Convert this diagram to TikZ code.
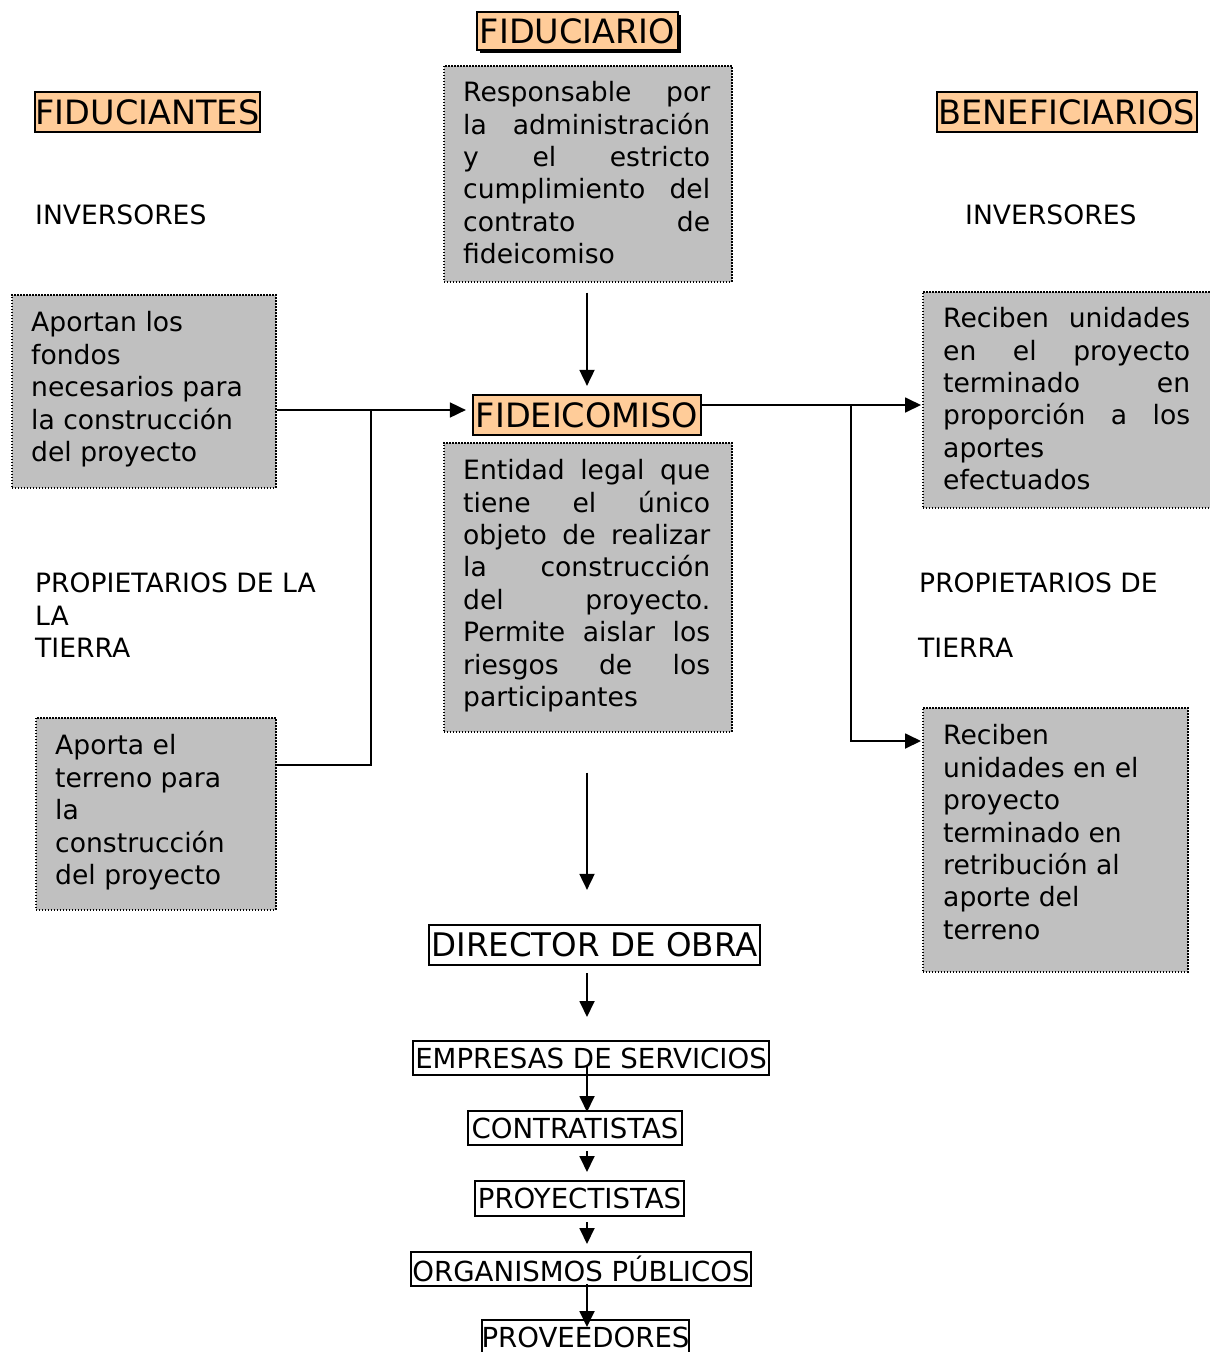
\documentclass[tikz,border=0pt]{standalone}
\usepackage{fontspec}
\setmainfont{DejaVu Sans}
\usetikzlibrary{arrows.meta,shadows,calc}
\definecolor{peach}{HTML}{FFCC99}
\definecolor{boxgray}{HTML}{C0C0C0}
\newcommand{\bodyfont}{\fontsize{26.6}{32.4}\selectfont\parindent=0pt}
\newcommand{\headfont}{\fontsize{33.5}{40}\selectfont}
\newcommand{\dirfont}{\fontsize{32.5}{39}\selectfont}
\newcommand{\listfont}{\fontsize{27.6}{33}\selectfont}
% one fully justified line: the interword spaces stretch to fill the column
\newcommand{\jl}[1]{\par\hbox to 247pt{\spaceskip=0.3em plus 1fil\xspaceskip=\spaceskip\strut #1}}
% closing line of a justified paragraph, left aligned
\newcommand{\lastline}[1]{\par\hbox{\strut #1}}
\tikzset{
  conn/.style={line width=1.8pt},
  arr/.style={conn,-{Triangle[length=16pt,width=15pt]}},
  headbox/.style={draw, line width=2.2pt, fill=peach, inner sep=0pt, font=\headfont},
  plainbox/.style={draw, line width=2pt, fill=white, inner sep=0pt},
  graybox/.style={draw, fill=boxgray, line width=1.5pt, dash pattern=on 1.5pt off 1.5pt, inner sep=0pt},
  bodytext/.style={anchor=north west, inner sep=0pt, font=\bodyfont},
  label/.style={anchor=north west, inner sep=0pt, font=\bodyfont, align=left},
}
\begin{document}
\begin{tikzpicture}[x=1pt,y=-1pt]
\clip (0,0) rectangle (1210,1352);
\fill[white] (0,0) rectangle (1210,1352);

% ---------- centre column ----------
\node[headbox, minimum width=201, minimum height=38,
      drop shadow={shadow xshift=3pt, shadow yshift=-3pt, fill=black, opacity=1}]
      (fiduciario) at (577.5,31) {FIDUCIARIO};

\node[graybox, minimum width=288, minimum height=216, anchor=north west] (resp) at (443,65) {};
\node[bodytext, text width=247] (resptxt) at (463,69) {%
  \jl{Responsable por}\jl{la administración}\jl{y el estricto}%
  \jl{cumplimiento del}\jl{contrato de}\lastline{fideicomiso}};

\node[headbox, minimum width=228, minimum height=40] (fidei) at (587,415) {FIDEICOMISO};

\node[graybox, minimum width=288, minimum height=289, anchor=north west] (entidad) at (443,442) {};
\node[bodytext, text width=247] (entidadtxt) at (463,447) {%
  \jl{Entidad legal que}\jl{tiene el único}\jl{objeto de realizar}%
  \jl{la construcción}\jl{del proyecto.}\jl{Permite aislar los}%
  \jl{riesgos de los}\lastline{participantes}};

\node[plainbox, line width=2.2pt, font=\dirfont, minimum width=331, minimum height=40] (director) at (594.5,945) {DIRECTOR DE OBRA};
\node[plainbox, font=\listfont, minimum width=356, minimum height=34] (empresas) at (591,1058) {EMPRESAS DE SERVICIOS};
\node[plainbox, font=\listfont, minimum width=214, minimum height=34] (contratistas) at (575,1128) {CONTRATISTAS};
\node[plainbox, font=\listfont, minimum width=209, minimum height=35] (proyectistas) at (579.5,1198.5) {PROYECTISTAS};
\node[plainbox, font=\listfont, minimum width=340, minimum height=34] (organismos) at (581,1269) {ORGANISMOS PÚBLICOS};
\node[plainbox, font=\listfont, minimum width=207, minimum height=34] (proveedores) at (585.5,1337) {PROVEEDORES};

% ---------- left column ----------
\node[headbox, minimum width=225, minimum height=40] (fiduciantes) at (147.5,112) {FIDUCIANTES};
\node[label] (invL) at (35,202) {\strut INVERSORES};
\node[graybox, minimum width=264, minimum height=193, anchor=north west] (aportan) at (11,294) {};
\node[label] (aportantxt) at (31,309) {\strut Aportan los\\fondos\\necesarios para\\la construcción\\del proyecto};
\node[label] (propL) at (35,570) {\strut PROPIETARIOS DE LA\\LA\\TIERRA};
\node[graybox, minimum width=240, minimum height=192, anchor=north west] (aporta) at (35,717) {};
\node[label] (aportatxt) at (55,732) {\strut Aporta el\\terreno para\\la\\construcción\\del proyecto};

% ---------- right column ----------
\node[headbox, minimum width=260, minimum height=40] (benef) at (1067,112) {BENEFICIARIOS};
\node[label] (invR) at (965,202) {\strut INVERSORES};
\node[graybox, minimum width=292, minimum height=216, anchor=north west] (reciben1) at (922,291) {};
\node[bodytext, text width=247] (reciben1txt) at (943,295) {%
  \jl{Reciben unidades}\jl{en el proyecto}\jl{terminado en}%
  \jl{proporción a los}\lastline{aportes}\lastline{efectuados}};
\node[label] (propR) at (919,570) {\strut PROPIETARIOS DE};
\node[label] (tierraR) at (918,635) {\strut TIERRA};
\node[graybox, minimum width=265, minimum height=264, anchor=north west] (reciben2) at (922,707) {};
\node[label] (reciben2txt) at (943,722) {\strut Reciben\\unidades en el\\proyecto\\terminado en\\retribución al\\aporte del\\terreno};

% ---------- connectors ----------
\coordinate (spine) at (587,0);
\coordinate (lj) at (371,410);
\coordinate (rj) at (851,405);

\draw[arr] ($(resp.south -| spine)+(0,10)$) -- ($(fidei.north -| spine)+(0,-8)$);
\draw[arr] (aportan.east |- lj) -- ($(fidei.west |- lj)+(-6,0)$);
\draw[conn] (aporta.east |- 0,765) -| (lj);
\draw[arr] (fidei.east |- rj) -- ($(reciben1.west |- rj)+(-1,0)$);
\draw[arr] (rj) |- ($(reciben2.west |- 0,741)+(-1,0)$);

\draw[arr] ($(entidad.south -| spine)+(0,40)$) -- ($(director.north -| spine)+(0,-34)$);
\draw[arr] ($(director.south -| spine)+(0,7)$) -- ($(empresas.north -| spine)+(0,-23)$);
\draw[arr] ($(empresas.south -| spine)+(0,-11)$) -- ($(contratistas.north -| spine)+(0,2)$);
\draw[arr] ($(contratistas.south -| spine)+(0,5)$) -- ($(proyectistas.north -| spine)+(0,-8)$);
\draw[arr] ($(proyectistas.south -| spine)+(0,5)$) -- ($(organismos.north -| spine)+(0,-7)$);
\draw[arr] ($(organismos.south -| spine)+(0,-3)$) -- ($(proveedores.north -| spine)+(0,8)$);
\end{tikzpicture}
\end{document}
